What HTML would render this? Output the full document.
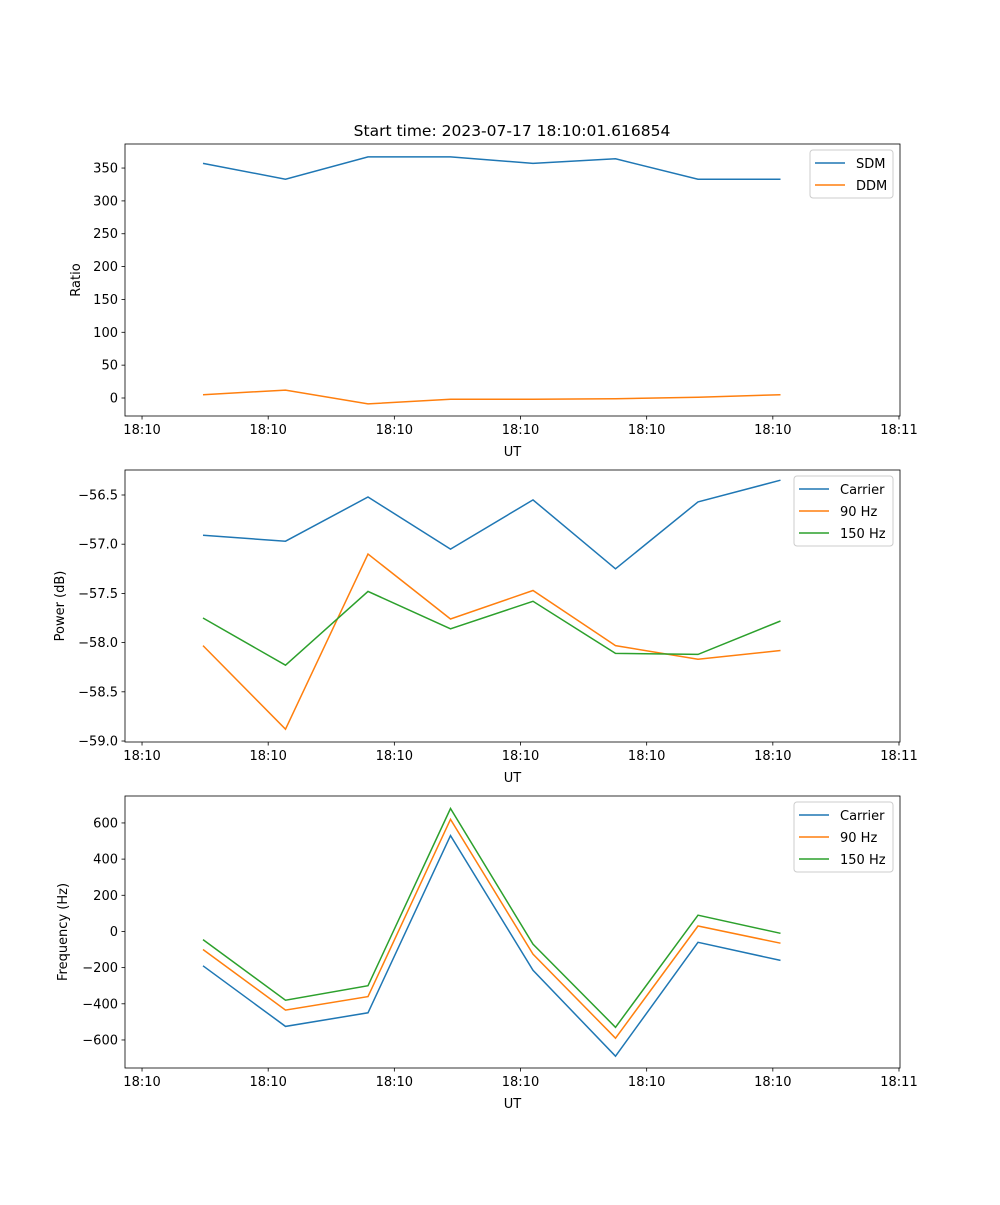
<!DOCTYPE html>
<html><head><meta charset="utf-8"><style>body{margin:0;background:#fff}svg text{font-family:"DejaVu Sans","Liberation Sans",sans-serif}</style></head>
<body>
<svg id="fig" width="1000" height="1200" xmlns="http://www.w3.org/2000/svg"></svg>
<script>
const times = [4.83, 11.37, 17.91, 24.45, 30.99, 37.53, 44.07, 50.61];
const tickVals = [0, 10, 20, 30, 40, 50, 60];
const tickLabels = ["18:10","18:10","18:10","18:10","18:10","18:10","18:11"];
const sdm = [357, 333, 367, 367, 357, 364, 333, 333];
const ddm = [5, 12, -9, -2, -2, -1, 1, 5];
const pwrCarrier = [-56.91, -56.97, -56.52, -57.05, -56.55, -57.25, -56.57, -56.35];
const pwr90 = [-58.03, -58.88, -57.10, -57.76, -57.47, -58.03, -58.17, -58.08];
const pwr150 = [-57.75, -58.23, -57.48, -57.86, -57.58, -58.11, -58.12, -57.78];
const frqCarrier = [-190, -525, -450, 530, -215, -690, -60, -160];
const frq90 = [-100, -435, -360, 620, -125, -590, 30, -65];
const frq150 = [-45, -380, -300, 680, -70, -530, 90, -10];
const ticks1 = [0,50,100,150,200,250,300,350];
const ticks2 = [-59.0,-58.5,-58.0,-57.5,-57.0,-56.5];
const ticks3 = [-600,-400,-200,0,200,400,600];

const NS="http://www.w3.org/2000/svg", svg=document.getElementById('fig');
function el(t,a,p){const e=document.createElementNS(NS,t);for(const k in a)e.setAttribute(k,a[k]);(p||svg).appendChild(e);return e;}
const L=125,R=900,xmin=-1.35,xmax=60.08;
const X=v=>L+(v-xmin)/(xmax-xmin)*(R-L);
const C=["#1f77b4","#ff7f0e","#2ca02c"];
function panel(name,top,bot,ymin,ymax,yt,fmt,ylabel,series,names,lg){
  const g=el('g',{});
  
  
  const Y=v=>bot-(v-ymin)/(ymax-ymin)*(bot-top);
  series.forEach((s,i)=>{
    const p=el('polyline',{points:s.map((v,j)=>X(times[j]).toFixed(1)+','+Y(v).toFixed(1)).join(' '),fill:'none',stroke:C[i],'stroke-width':1.5},g);
    
    
  });
  el('rect',{x:L,y:top,width:R-L,height:bot-top,fill:'none',stroke:'#000','stroke-width':0.8},g);
  tickVals.forEach((v,i)=>{const x=X(v);el('line',{x1:x,x2:x,y1:bot,y2:bot+3.5,stroke:'#000','stroke-width':0.8},g);
    const t=el('text',{x:x,y:bot+18,'font-size':13,'text-anchor':'middle'},g);t.textContent=tickLabels[i];
    });
  const xl=el('text',{x:(L+R)/2,y:bot+40,'font-size':13,'text-anchor':'middle'},g);xl.textContent='UT';
  
  yt.forEach(v=>{const y=Y(v);el('line',{x1:L-3.5,x2:L,y1:y,y2:y,stroke:'#000','stroke-width':0.8},g);
    const t=el('text',{x:L-7,y:y+4.5,'font-size':13,'text-anchor':'end'},g);t.textContent=fmt(v);
    });
  const yl=el('text',{x:0,y:0,'font-size':13,'text-anchor':'middle',transform:`translate(${lg.yx},${(top+bot)/2}) rotate(-90)`},g);yl.textContent=ylabel;
  
  const lgd=el('g',{},g);
  
  el('rect',{x:lg.x,y:top+6,width:893-lg.x,height:names.length*22+4,rx:3,fill:'#fff',stroke:'#ccc'},lgd);
  names.forEach((n,i)=>{const y=top+19+i*22;
    el('line',{x1:lg.x+5,x2:lg.x+35,y1:y,y2:y,stroke:C[i],'stroke-width':1.5},lgd);
    const t=el('text',{x:lg.x+46,y:y+5,'font-size':13},lgd);t.textContent=n;
    });
}
const tt=el('text',{x:512,y:136,'font-size':15.5,'text-anchor':'middle'});tt.textContent='Start time: 2023-07-17 18:10:01.616854';

panel('ratio-panel',144,416,-27.4,386.6,ticks1,v=>String(v),'Ratio',[sdm,ddm],['SDM','DDM'],{x:810,yx:80});
panel('power-panel',470,742,-59.01,-56.246,ticks2,v=>'\u2212'.repeat(v<0?1:0)+Math.abs(v).toFixed(1),'Power (dB)',[pwrCarrier,pwr90,pwr150],['Carrier','90 Hz','150 Hz'],{x:794,yx:64});
panel('frequency-panel',796,1068,-755,749,ticks3,v=>(v<0?'\u2212':'')+Math.abs(v),'Frequency (Hz)',[frqCarrier,frq90,frq150],['Carrier','90 Hz','150 Hz'],{x:794,yx:67});
</script>
</body></html>
